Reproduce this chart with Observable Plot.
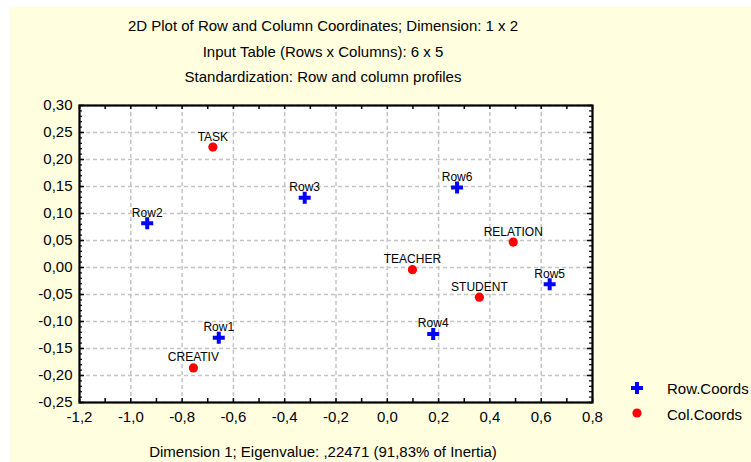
<!DOCTYPE html>
<html>
<head>
<meta charset="utf-8">
<script src="https://cdn.jsdelivr.net/npm/d3@7"></script>
<script src="https://cdn.jsdelivr.net/npm/@observablehq/plot@0.6"></script>
<style>
  body { margin: 0; background: #ffffff; font-family: "Liberation Sans", Arial, sans-serif; color: #000; }
  #wrap { position: relative; width: 751px; height: 462px; overflow: hidden; }
  #bg { position: absolute; left: 10px; top: 7px; right: 0; bottom: 0; background: #ffffe0; }
  #chart { position: absolute; left: 0; top: 0; }
  .t { position: absolute; left: 0; width: 646px; text-align: center; font-size: 15px; line-height: 25.5px; white-space: nowrap; }
  .lg { position: absolute; font-size: 15px; line-height: 15px; white-space: nowrap; }
</style>
</head>
<body>
<div id="wrap">
  <div id="bg"></div>
  <div id="chart"></div>
  <div class="t" id="titles" style="top:13px"></div>
  <div class="t" id="xtitle" style="top:438.5px"></div>
  <svg id="lgsym" width="20" height="45" style="position:absolute;left:627px;top:378px"></svg>
  <div class="lg" id="lg1" style="left:667px;top:381.3px"></div>
  <div class="lg" id="lg2" style="left:667px;top:406.6px"></div>
</div>
<script>
// ---- data ----
const titleLines = [
  "2D Plot of Row and Column Coordinates; Dimension: 1 x 2",
  "Input Table (Rows x Columns): 6 x 5",
  "Standardization: Row and column profiles"
];
const xTitle = "Dimension 1; Eigenvalue: ,22471 (91,83% of Inertia)";
const seriesNames = ["Row.Coords", "Col.Coords"];

const rowLabels = ["Row1", "Row2", "Row3", "Row4", "Row5", "Row6"];
const rowX = [-0.657, -0.936, -0.322, 0.179, 0.633, 0.272];
const rowY = [-0.130, 0.082, 0.129, -0.123, -0.031, 0.148];

const colLabels = ["TASK", "CREATIV", "RELATION", "TEACHER", "STUDENT"];
const colX = [-0.680, -0.756, 0.491, 0.098, 0.359];
const colY = [0.223, -0.186, 0.047, -0.004, -0.055];

const xTicks = [-1.2, -1.0, -0.8, -0.6, -0.4, -0.2, 0.0, 0.2, 0.4, 0.6, 0.8];
const yTicks = [-0.25, -0.20, -0.15, -0.10, -0.05, 0.00, 0.05, 0.10, 0.15, 0.20, 0.25, 0.30];
const xMinor = d3.range(-12, 9).map(i => i / 10);
const yMinor = d3.range(-25, 31).map(i => i / 100);

// ---- build ----
const rows = rowLabels.map((name, i) => ({name, x: rowX[i], y: rowY[i]}));
const cols = colLabels.map((name, i) => ({name, x: colX[i], y: colY[i]}));

const loc = d3.formatLocale({decimal: ",", thousands: ".", grouping: [3], currency: ["", ""], minus: "-"});
const f1 = loc.format(".1f");
const f2 = loc.format(".2f");

const W = 751, H = 462, mL = 79, mR = 159, mT = 105, mB = 60;
const fw = W - mL - mR, fh = H - mT - mB;
const blue = "#0000ff", red = "#ff0000";
const font = "Liberation Sans, Arial, sans-serif";

const chart = Plot.plot({
  width: W, height: H,
  marginLeft: mL, marginRight: mR, marginTop: mT, marginBottom: mB,
  style: {background: "transparent", fontFamily: font, color: "#000"},
  x: {domain: [-1.2, 0.8]},
  y: {domain: [-0.25, 0.30]},
  marks: [
    Plot.frame({fill: "white", stroke: null}),
    Plot.gridX(xTicks, {stroke: "#c4c4c4", strokeOpacity: 1, strokeWidth: 1.5, strokeDasharray: "4,3"}),
    Plot.gridY(yTicks, {stroke: "#c4c4c4", strokeOpacity: 1, strokeWidth: 1.5, strokeDasharray: "4,3"}),
    // inward ticks
    Plot.tickX(xMinor, {x: d => d, insetTop: fh - 4, stroke: "black", strokeWidth: 1.5}),
    Plot.tickX(xMinor, {x: d => d, insetBottom: fh - 4, stroke: "black", strokeWidth: 1.5}),
    Plot.tickY(yMinor, {y: d => d, insetRight: fw - 3, stroke: "black", strokeWidth: 1.2}),
    Plot.tickY(yMinor, {y: d => d, insetLeft: fw - 3, stroke: "black", strokeWidth: 1.2}),
    Plot.tickY(yTicks, {y: d => d, insetRight: fw - 5, stroke: "black", strokeWidth: 1.5}),
    Plot.tickY(yTicks, {y: d => d, insetLeft: fw - 5, stroke: "black", strokeWidth: 1.5}),
    Plot.frame({stroke: "black", strokeWidth: 2.2}),
    Plot.axisX(xTicks, {tickSize: 0, tickPadding: 9, tickFormat: f1, fontSize: 15, label: null}),
    Plot.axisY(yTicks, {tickSize: 0, tickPadding: 7, tickFormat: f2, fontSize: 15, label: null}),
    // points
    Plot.dot(rows, {x: "x", y: "y", symbol: "cross", r: 5.05, fill: blue, stroke: null}),
    Plot.dot(cols, {x: "x", y: "y", symbol: "circle", r: 4.6, fill: red, stroke: null}),
    Plot.text(rows, {x: "x", y: "y", text: "name", fontSize: 12, fill: "#000", lineAnchor: "bottom", dy: -6.5}),
    Plot.text(cols, {x: "x", y: "y", text: "name", fontSize: 12, fill: "#000", lineAnchor: "bottom", dy: -6.5})
  ]
});
document.getElementById("chart").appendChild(chart);

document.getElementById("titles").innerHTML = titleLines.map(s => `<div>${s}</div>`).join("");
document.getElementById("xtitle").textContent = xTitle;
document.getElementById("lg1").textContent = seriesNames[0];
document.getElementById("lg2").textContent = seriesNames[1];

const lg = d3.select("#lgsym");
lg.append("path").attr("transform", "translate(10,10)").attr("d", d3.symbol(d3.symbolCross, 80)()).attr("fill", blue);
lg.append("circle").attr("cx", 10).attr("cy", 35).attr("r", 4.6).attr("fill", red);
</script>
</body>
</html>
